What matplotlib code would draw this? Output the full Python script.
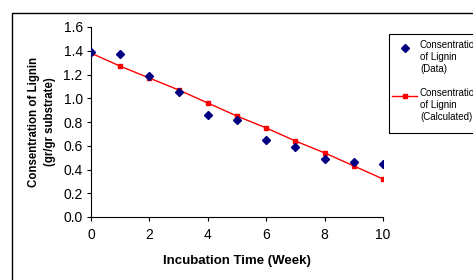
import matplotlib
matplotlib.use('Agg')
import matplotlib.pyplot as plt
from matplotlib.patches import Rectangle
from matplotlib.lines import Line2D

plt.rcParams['font.family'] = ['Liberation Sans', 'DejaVu Sans']

weeks = [0, 1, 2, 3, 4, 5, 6, 7, 8, 9, 10]
lignin_data = [1.39, 1.37, 1.19, 1.05, 0.86, 0.82, 0.65, 0.59, 0.49, 0.46, 0.45]
lignin_calc = [1.38, 1.27, 1.17, 1.07, 0.96, 0.85, 0.75, 0.64, 0.54, 0.43, 0.32]
label_data = 'Consentration\nof Lignin\n(Data)'
label_calc = 'Consentration\nof Lignin\n(Calculated)'

NAVY = '#000080'
RED = '#ff0000'

W, H = 473, 280
fig = plt.figure(figsize=(W / 100, H / 100), dpi=100, facecolor='white')
ax = fig.add_axes([91 / W, 1 - 217 / H, (383 - 91) / W, (217 - 27) / H])

ax.plot(weeks, lignin_calc, color=RED, linewidth=1, marker='s',
        markersize=3.5, zorder=2)
ax.plot(weeks, lignin_data, linestyle='none', marker='D', color=NAVY,
        markersize=4.5, zorder=3)

ax.set_xlim(0, 10)
ax.set_ylim(0, 1.6)
ax.set_xticks([0, 2, 4, 6, 8, 10])
ax.set_yticks([0, 0.2, 0.4, 0.6, 0.8, 1.0, 1.2, 1.4, 1.6])
ax.set_yticklabels([f'{v:.1f}' for v in ax.get_yticks()])
for s in ['top', 'right']:
    ax.spines[s].set_visible(False)
for s in ['left', 'bottom']:
    ax.spines[s].set_color('black')
    ax.spines[s].set_linewidth(0.8)
ax.tick_params(direction='out', length=3, width=0.8, labelsize=10, colors='black')
ax.tick_params(axis='x', pad=5)
ax.tick_params(axis='y', pad=3)

ax.set_xlabel('Incubation Time (Week)', fontsize=9.5, fontweight='bold', labelpad=9)
ax.set_ylabel('Consentration of Lignin\n(gr/gr substrate)', fontsize=8.3,
              fontweight='bold', labelpad=5, linespacing=1.5)

# legend drawn Excel-style: handle next to the first text line
def fx(px):
    return px / W

def fy(py):
    return 1 - py / H

fig.patches.append(Rectangle((fx(389), fy(133)), fx(500) - fx(389), fy(34) - fy(133),
                             transform=fig.transFigure, fill=False,
                             edgecolor='black', linewidth=0.8))
fig.add_artist(Line2D([fx(405)], [fy(47.5)], transform=fig.transFigure,
                      marker='D', color=NAVY, markersize=4.5, linestyle='none'))
fig.text(fx(420), fy(40), label_data, fontsize=7, va='top', ha='left',
         linespacing=1.25)
fig.add_artist(Line2D([fx(392), fx(417)], [fy(96), fy(96)], transform=fig.transFigure,
                      color=RED, linewidth=1))
fig.add_artist(Line2D([fx(405)], [fy(96)], transform=fig.transFigure,
                      marker='s', color=RED, markersize=3.5, linestyle='none'))
fig.text(fx(420), fy(88), label_calc, fontsize=7, va='top', ha='left',
         linespacing=1.25)

fig.patches.append(Rectangle((12 / W, -0.1), 1.0, 1 - 13 / H + 0.1,
                             transform=fig.transFigure, fill=False,
                             edgecolor='black', linewidth=1))

fig.savefig('out.png', dpi=100, facecolor='white')
